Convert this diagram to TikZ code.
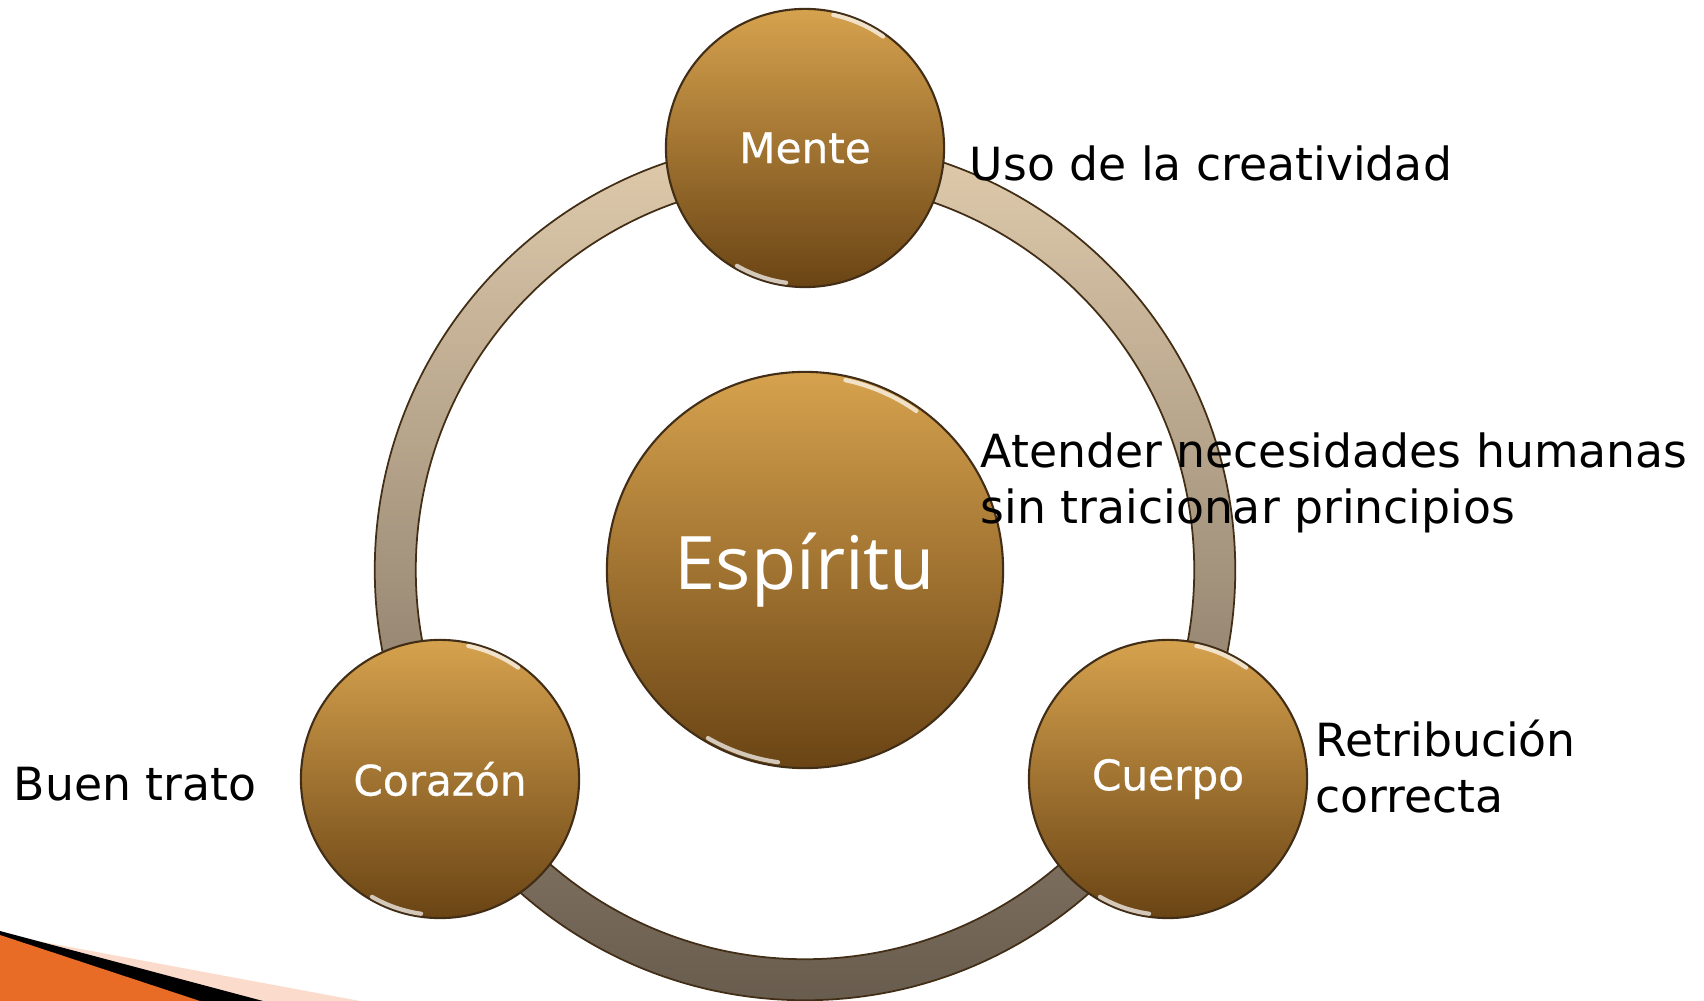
\documentclass[tikz,border=0pt]{standalone}
\usepackage{fontspec}
\setmainfont{DejaVu Sans}
\newfontfamily\espfont{Open Sans}
\newfontfamily\ballfont[FakeBold=0.6]{DejaVu Sans}
\usetikzlibrary{positioning}
\definecolor{goldtop}{RGB}{214,162,78}
\definecolor{goldbot}{RGB}{106,68,20}
\definecolor{ringtop}{RGB}{224,203,172}
\definecolor{ringbot}{RGB}{104,92,78}
\definecolor{rimcol}{RGB}{66,46,22}
\definecolor{orng}{RGB}{232,108,38}
\definecolor{pinkish}{RGB}{250,205,182}

\tikzset{
  ball/.style={circle, inner sep=0pt, minimum size=2.78cm, top color=goldtop, bottom color=goldbot,
    draw=rimcol, line width=0.6pt, text=white, font=\ballfont\fontsize{12}{14}\selectfont},
  note/.style={inner sep=0pt, align=left, font=\fontsize{13}{16}\selectfont},
  glint/.style={white, opacity=0.7, line width=1.2pt, line cap=round}
}

\begin{document}
\begin{tikzpicture}[x=0.01cm, y=-0.01cm]
  \useasboundingbox (0,0) rectangle (1704,1001);
  \def \rout{4.30cm}
  \def \rin{3.89cm}
  \def \rb{1.36cm}

  % corner wedge
  \fill[pinkish, opacity=0.7] (0,934) -- (360,1001) -- (0,1001) -- cycle;
  \fill[black] (0,931) -- (263,1001) -- (0,1001) -- cycle;
  \fill[orng] (0,935) -- (200,1001) -- (0,1001) -- cycle;

  % ring
  \coordinate (c) at (805,570);
  \shade[top color=ringtop, bottom color=ringbot, even odd rule] (c) circle (\rout) (c) circle (\rin);
  \draw[rimcol, line width=0.5pt] (c) circle (\rout) (c) circle (\rin);

  % circles
  \node[ball, minimum size=3.96cm, font=\espfont\fontsize{21}{24}\selectfont] (esp) at (c) {Espíritu};
  \node[ball] (mente) at (805,148) {Mente};
  \node[ball] (corazon) at (440,779) {Corazón};
  \node[ball] (cuerpo) at (1168,779) {Cuerpo};

  \draw[glint] (esp.center) ++(55:1.94cm) arc (55:78:1.94cm);
  \draw[glint] (esp.center) ++(240:1.94cm) arc (240:262:1.94cm);
  \draw[glint] (mente.center) ++(55:\rb) arc (55:78:\rb);
  \draw[glint] (mente.center) ++(240:\rb) arc (240:262:\rb);
  \draw[glint] (corazon.center) ++(55:\rb) arc (55:78:\rb);
  \draw[glint] (corazon.center) ++(240:\rb) arc (240:262:\rb);
  \draw[glint] (cuerpo.center) ++(55:\rb) arc (55:78:\rb);
  \draw[glint] (cuerpo.center) ++(240:\rb) arc (240:262:\rb);

  % texts
  \node[note, anchor=base west] (uso) at (969,181) {Uso de la creatividad};
  \node[note, anchor=north west] (atender) at (980,432) {Atender necesidades humanas\\sin traicionar principios};
  \node[note, anchor=north west] (retrib) at (1315,719) {Retribución\\correcta};
  \node[note, anchor=base west] (buen) at (13,800) {Buen trato};
\end{tikzpicture}
\end{document}
